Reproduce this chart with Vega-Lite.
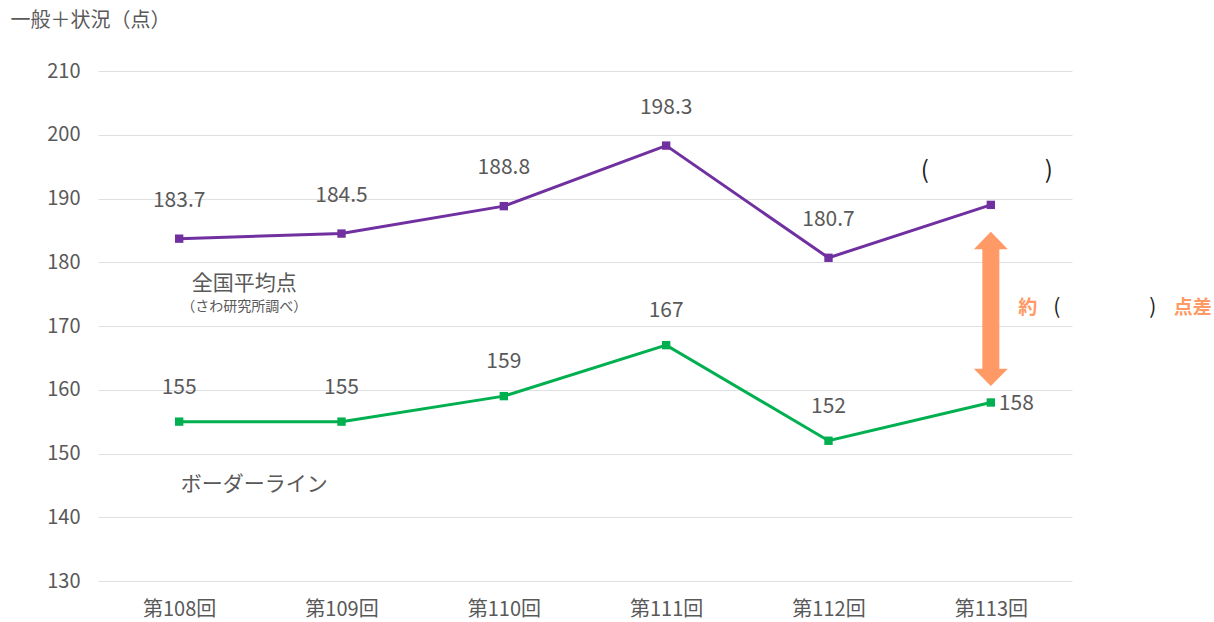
{
  "$schema": "https://vega.github.io/schema/vega-lite/v6.json",
  "width": 974,
  "height": 510,
  "autosize": {"type": "none"},
  "padding": {"left": 98, "top": 71, "right": 142, "bottom": 41},
  "background": "white",
  "config": {
    "font": "Noto Sans CJK JP",
    "view": {"stroke": null}
  },
  "datasets": {
    "scores": [
      {"round": "第108回", "series": "全国平均点", "value": 183.7, "label": "183.7"},
      {"round": "第109回", "series": "全国平均点", "value": 184.5, "label": "184.5"},
      {"round": "第110回", "series": "全国平均点", "value": 188.8, "label": "188.8"},
      {"round": "第111回", "series": "全国平均点", "value": 198.3, "label": "198.3"},
      {"round": "第112回", "series": "全国平均点", "value": 180.7, "label": "180.7"},
      {"round": "第113回", "series": "全国平均点", "value": 189, "label": ""},
      {"round": "第108回", "series": "ボーダーライン", "value": 155, "label": "155"},
      {"round": "第109回", "series": "ボーダーライン", "value": 155, "label": "155"},
      {"round": "第110回", "series": "ボーダーライン", "value": 159, "label": "159"},
      {"round": "第111回", "series": "ボーダーライン", "value": 167, "label": "167"},
      {"round": "第112回", "series": "ボーダーライン", "value": 152, "label": "152"},
      {"round": "第113回", "series": "ボーダーライン", "value": 158, "label": "158"}
    ],
    "arrow": [
      {"round": "第113回", "top": 182.1, "bottom": 163.25}
    ],
    "notes": [
      {"round": "第108回", "value": 176.6, "text": "全国平均点", "kind": "main", "series": "avg"},
      {"round": "第108回", "value": 173.0, "text": "（さわ研究所調べ）", "kind": "sub", "series": "avg"},
      {"round": "第108回", "value": 145.1, "text": "ボーダーライン", "kind": "main", "series": "border"}
    ]
  },
  "layer": [
    {
      "data": {"name": "scores"},
      "mark": {"type": "line", "strokeWidth": 3},
      "encoding": {
        "x": {
          "field": "round", "type": "ordinal", "sort": null,
          "scale": {"type": "point", "padding": 0.5},
          "axis": {
            "title": null, "labelAngle": 0, "ticks": false, "domain": false,
            "labelFontSize": 20, "labelColor": "#595959", "labelPadding": 18,
            "grid": false
          }
        },
        "y": {
          "field": "value", "type": "quantitative",
          "scale": {"domain": [130, 210], "nice": false, "zero": false},
          "axis": {
            "values": [130, 140, 150, 160, 170, 180, 190, 200, 210],
            "title": "一般＋状況（点）",
            "titleAngle": 0, "titleAlign": "left", "titleBaseline": "middle",
            "titleX": -88, "titleY": -51,
            "titleFontSize": 20, "titleFontWeight": "normal", "titleColor": "#595959",
            "ticks": false, "domain": false,
            "labelFontSize": 20, "labelColor": "#595959", "labelPadding": 18,
            "grid": true, "gridColor": "#e0e0e0", "gridWidth": 1
          }
        },
        "color": {
          "field": "series", "type": "nominal",
          "scale": {"domain": ["全国平均点", "ボーダーライン"], "range": ["#7030A0", "#00B050"]},
          "legend": null
        }
      }
    },
    {
      "data": {"name": "scores"},
      "mark": {"type": "point", "shape": "square", "filled": true, "size": 70, "opacity": 1},
      "encoding": {
        "x": {"field": "round", "type": "ordinal", "sort": null},
        "y": {"field": "value", "type": "quantitative"},
        "color": {"field": "series", "type": "nominal", "legend": null}
      }
    },
    {
      "data": {"name": "scores"},
      "transform": [{"filter": "datum.series === '全国平均点'"}],
      "mark": {"type": "text", "fontSize": 21, "color": "#595959", "dy": -38, "baseline": "middle"},
      "encoding": {
        "x": {"field": "round", "type": "ordinal", "sort": null},
        "y": {"field": "value", "type": "quantitative"},
        "text": {"field": "label"}
      }
    },
    {
      "data": {"name": "scores"},
      "transform": [{"filter": "datum.series === 'ボーダーライン' && datum.round !== '第113回'"}],
      "mark": {"type": "text", "fontSize": 21, "color": "#595959", "dy": -34, "baseline": "middle"},
      "encoding": {
        "x": {"field": "round", "type": "ordinal", "sort": null},
        "y": {"field": "value", "type": "quantitative"},
        "text": {"field": "label"}
      }
    },
    {
      "data": {"name": "scores"},
      "transform": [{"filter": "datum.series === 'ボーダーライン' && datum.round === '第113回'"}],
      "mark": {"type": "text", "fontSize": 21, "color": "#595959", "dx": 8, "dy": 1, "align": "left", "baseline": "middle"},
      "encoding": {
        "x": {"field": "round", "type": "ordinal", "sort": null},
        "y": {"field": "value", "type": "quantitative"},
        "text": {"field": "label"}
      }
    },
    {
      "data": {"name": "arrow"},
      "mark": {"type": "rule", "color": "#FF9966", "strokeWidth": 17, "strokeCap": "butt"},
      "encoding": {
        "x": {"field": "round", "type": "ordinal", "sort": null},
        "y": {"field": "top", "type": "quantitative"},
        "y2": {"field": "bottom"}
      }
    },
    {
      "data": {"name": "arrow"},
      "mark": {"type": "point", "shape": "M-1,0.02L0,-1L1,0.02Z", "filled": true, "size": 1156, "color": "#FF9966", "opacity": 1},
      "encoding": {
        "x": {"field": "round", "type": "ordinal", "sort": null},
        "y": {"field": "top", "type": "quantitative"}
      }
    },
    {
      "data": {"name": "arrow"},
      "mark": {"type": "point", "shape": "M-1,-0.02L0,1L1,-0.02Z", "filled": true, "size": 1156, "color": "#FF9966", "opacity": 1},
      "encoding": {
        "x": {"field": "round", "type": "ordinal", "sort": null},
        "y": {"field": "bottom", "type": "quantitative"}
      }
    },
    {
      "data": {"name": "scores"},
      "transform": [{"filter": "datum.series === '全国平均点' && datum.round === '第113回'"}],
      "mark": {"type": "text", "text": "(", "fontSize": 24, "color": "#222222", "dx": -66, "dy": -34, "baseline": "middle"},
      "encoding": {
        "x": {"field": "round", "type": "ordinal", "sort": null},
        "y": {"field": "value", "type": "quantitative"}
      }
    },
    {
      "data": {"name": "scores"},
      "transform": [{"filter": "datum.series === '全国平均点' && datum.round === '第113回'"}],
      "mark": {"type": "text", "text": ")", "fontSize": 24, "color": "#222222", "dx": 58, "dy": -34, "baseline": "middle"},
      "encoding": {
        "x": {"field": "round", "type": "ordinal", "sort": null},
        "y": {"field": "value", "type": "quantitative"}
      }
    },
    {
      "data": {"name": "arrow"},
      "mark": {"type": "text", "text": "約", "fontSize": 19, "fontWeight": "bold", "color": "#FF9966", "dx": 37, "baseline": "middle"},
      "encoding": {
        "x": {"field": "round", "type": "ordinal", "sort": null},
        "y": {"datum": 172.8, "type": "quantitative"}
      }
    },
    {
      "data": {"name": "arrow"},
      "mark": {"type": "text", "text": "(", "fontSize": 21, "color": "#222222", "dx": 66, "baseline": "middle"},
      "encoding": {
        "x": {"field": "round", "type": "ordinal", "sort": null},
        "y": {"datum": 172.8, "type": "quantitative"}
      }
    },
    {
      "data": {"name": "arrow"},
      "mark": {"type": "text", "text": ")", "fontSize": 21, "color": "#222222", "dx": 162, "baseline": "middle"},
      "encoding": {
        "x": {"field": "round", "type": "ordinal", "sort": null},
        "y": {"datum": 172.8, "type": "quantitative"}
      }
    },
    {
      "data": {"name": "arrow"},
      "mark": {"type": "text", "text": "点差", "fontSize": 19, "fontWeight": "bold", "color": "#FF9966", "dx": 202, "baseline": "middle"},
      "encoding": {
        "x": {"field": "round", "type": "ordinal", "sort": null},
        "y": {"datum": 172.8, "type": "quantitative"}
      }
    },
    {
      "data": {"name": "notes"},
      "transform": [{"filter": "datum.kind === 'main' && datum.series === 'avg'"}],
      "mark": {"type": "text", "fontSize": 21, "color": "#595959", "dx": 65, "baseline": "middle"},
      "encoding": {
        "x": {"field": "round", "type": "ordinal", "sort": null},
        "y": {"field": "value", "type": "quantitative"},
        "text": {"field": "text"}
      }
    },
    {
      "data": {"name": "notes"},
      "transform": [{"filter": "datum.kind === 'sub'"}],
      "mark": {"type": "text", "fontSize": 14, "color": "#595959", "dx": 65, "baseline": "middle"},
      "encoding": {
        "x": {"field": "round", "type": "ordinal", "sort": null},
        "y": {"field": "value", "type": "quantitative"},
        "text": {"field": "text"}
      }
    },
    {
      "data": {"name": "notes"},
      "transform": [{"filter": "datum.series === 'border'"}],
      "mark": {"type": "text", "fontSize": 21, "color": "#595959", "dx": 75, "baseline": "middle"},
      "encoding": {
        "x": {"field": "round", "type": "ordinal", "sort": null},
        "y": {"field": "value", "type": "quantitative"},
        "text": {"field": "text"}
      }
    }
  ]
}
